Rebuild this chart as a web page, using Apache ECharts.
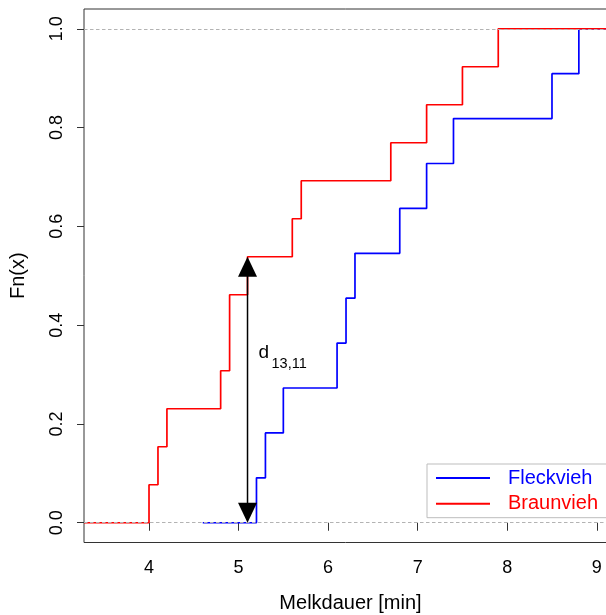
<!DOCTYPE html>
<html>
<head>
<meta charset="utf-8">
<script src="https://cdn.jsdelivr.net/npm/echarts@6/dist/echarts.min.js"></script>
<style>html,body{margin:0;padding:0;background:#fff;}#c{width:606px;height:615px;}</style>
</head>
<body>
<div id="c"></div>
<script>
// ---- data ----
const braunvieh = [4.0, 4.1, 4.2, 4.8, 4.9, 4.9, 5.1, 5.6, 5.7, 6.7, 7.1, 7.5, 7.9];
const fleckvieh = [5.2, 5.3, 5.5, 6.1, 6.2, 6.3, 6.8, 7.1, 7.4, 8.5, 8.8];
const seriesNames = ['Fleckvieh', 'Braunvieh'];
const xTicks = [4, 5, 6, 7, 8, 9];
const yTicks = [0.0, 0.2, 0.4, 0.6, 0.8, 1.0];
const xRange = [3.274, 9.226];
const yRange = [-0.04, 1.04];
const braunStart = 3.274;
const fleckStart = 4.6;
const dAt = 5.1;           // position of the d_{13,11} arrow
const dLabelY = 0.345;

const FONT = '"Liberation Sans", Arial, Helvetica, sans-serif';

function ecdfSteps(sample, start, end) {
  const s = sample.slice().sort((a, b) => a - b);
  const n = s.length;
  const pts = [[start, 0]];
  const uniq = [...new Set(s)];
  uniq.forEach(v => {
    const c = s.filter(x => x <= v).length;
    pts.push([v, c / n]);
  });
  pts.push([end, 1]);
  return pts;
}
function ecdfAt(sample, x) {
  return sample.filter(v => v <= x).length / sample.length;
}

const fleckPts = ecdfSteps(fleckvieh, fleckStart, xRange[1]);
const braunPts = ecdfSteps(braunvieh, braunStart, xRange[1]);
const arrowData = [[dAt, ecdfAt(braunvieh, dAt), ecdfAt(fleckvieh, dAt)]];

const chart = echarts.init(document.getElementById('c'), null, {renderer: 'canvas'});
chart.setOption({
  animation: false,
  backgroundColor: '#fff',
  textStyle: {fontFamily: FONT},
  grid: {
    left: 84, right: -11, top: 9, bottom: 72.5,
    show: true, borderColor: '#333', borderWidth: 1, backgroundColor: 'transparent',
    containLabel: false, outerBoundsMode: 'none'
  },
  xAxis: {
    type: 'value', min: xRange[0], max: xRange[1],
    name: 'Melkdauer [min]', nameLocation: 'middle', nameGap: 51,
    nameTextStyle: {fontSize: 20, color: '#000', fontFamily: FONT},
    axisLine: {show: false},
    axisTick: {show: true, inside: false, length: 8, lineStyle: {color: '#333'}, customValues: xTicks},
    axisLabel: {show: true, margin: 17, fontSize: 18, color: '#000', fontFamily: FONT, customValues: xTicks,
      formatter: v => String(v)},
    splitLine: {show: false}
  },
  yAxis: {
    type: 'value', min: yRange[0], max: yRange[1],
    name: 'Fn(x)', nameLocation: 'middle', nameGap: 56,
    nameTextStyle: {fontSize: 20, color: '#000', fontFamily: FONT},
    axisLine: {show: false},
    axisTick: {show: true, inside: false, length: 7, lineStyle: {color: '#333'}, customValues: yTicks},
    axisLabel: {show: true, margin: 18, rotate: 90, fontSize: 18, color: '#000', fontFamily: FONT,
      customValues: yTicks, formatter: v => Number(v).toFixed(1)},
    splitLine: {show: false}
  },
  legend: {
    orient: 'vertical', left: 427, top: 464,
    data: [
      {name: seriesNames[0], textStyle: {color: '#0000ff'}},
      {name: seriesNames[1], textStyle: {color: '#ff0000'}}
    ],
    icon: 'rect', itemWidth: 54, itemHeight: 2, itemGap: 5.7,
    padding: [4, 30, 4, 9],
    backgroundColor: '#fff', borderColor: '#bdbdbd', borderWidth: 1, borderRadius: 0,
    textStyle: {fontSize: 20, lineHeight: 20, fontFamily: FONT, padding: [0, 0, 0, 13]},
    selectedMode: false
  },
  series: [
    {
      name: seriesNames[0], type: 'line', step: 'end', data: fleckPts,
      symbol: 'none', showSymbol: false, color: '#0000ff',
      lineStyle: {color: '#0000ff', width: 1.7}, z: 2, silent: true
    },
    {
      name: seriesNames[1], type: 'line', step: 'end', data: braunPts,
      symbol: 'none', showSymbol: false, color: '#ff0000',
      lineStyle: {color: '#ff0000', width: 1.7}, z: 2, silent: true
    },
    {
      name: 'ref', type: 'line', data: [], z: 4, silent: true,
      markLine: {
        silent: true, symbol: 'none', label: {show: false},
        lineStyle: {color: '#b3b3b3', type: [3.5, 2.5], width: 1},
        data: [{yAxis: 0}, {yAxis: 1}]
      }
    },
    {
      name: 'arrow', type: 'custom', z: 6, silent: true, clip: false,
      dimensions: ['x', 'top', 'bottom'],
      encode: {x: 0, y: [1, 2]},
      data: arrowData,
      renderItem: function (params, api) {
        const x = api.value(0);
        const pTop = api.coord([x, api.value(1)]);
        const pBot = api.coord([x, api.value(2)]);
        const pLab = api.coord([x, dLabelY]);
        const hl = 20, hw = 9.5;
        return {
          type: 'group',
          children: [
            {type: 'line', shape: {x1: pTop[0], y1: pTop[1] + hl - 2, x2: pBot[0], y2: pBot[1] - hl + 2},
              style: {stroke: '#000', lineWidth: 1.5}},
            {type: 'polygon', shape: {points: [[pTop[0], pTop[1]], [pTop[0] - hw, pTop[1] + hl], [pTop[0] + hw, pTop[1] + hl]]},
              style: {fill: '#000'}},
            {type: 'polygon', shape: {points: [[pBot[0], pBot[1]], [pBot[0] - hw, pBot[1] - hl], [pBot[0] + hw, pBot[1] - hl]]},
              style: {fill: '#000'}},
            {type: 'text', x: pLab[0] + 11, y: pLab[1],
              style: {text: 'd', fontSize: 19, fontFamily: FONT, fill: '#000', align: 'left', verticalAlign: 'middle'}},
            {type: 'text', x: pLab[0] + 24, y: pLab[1] + 12,
              style: {text: '13,11', fontSize: 14.5, fontFamily: FONT, fill: '#000', align: 'left', verticalAlign: 'middle'}}
          ]
        };
      }
    }
  ]
});
</script>
</body>
</html>
